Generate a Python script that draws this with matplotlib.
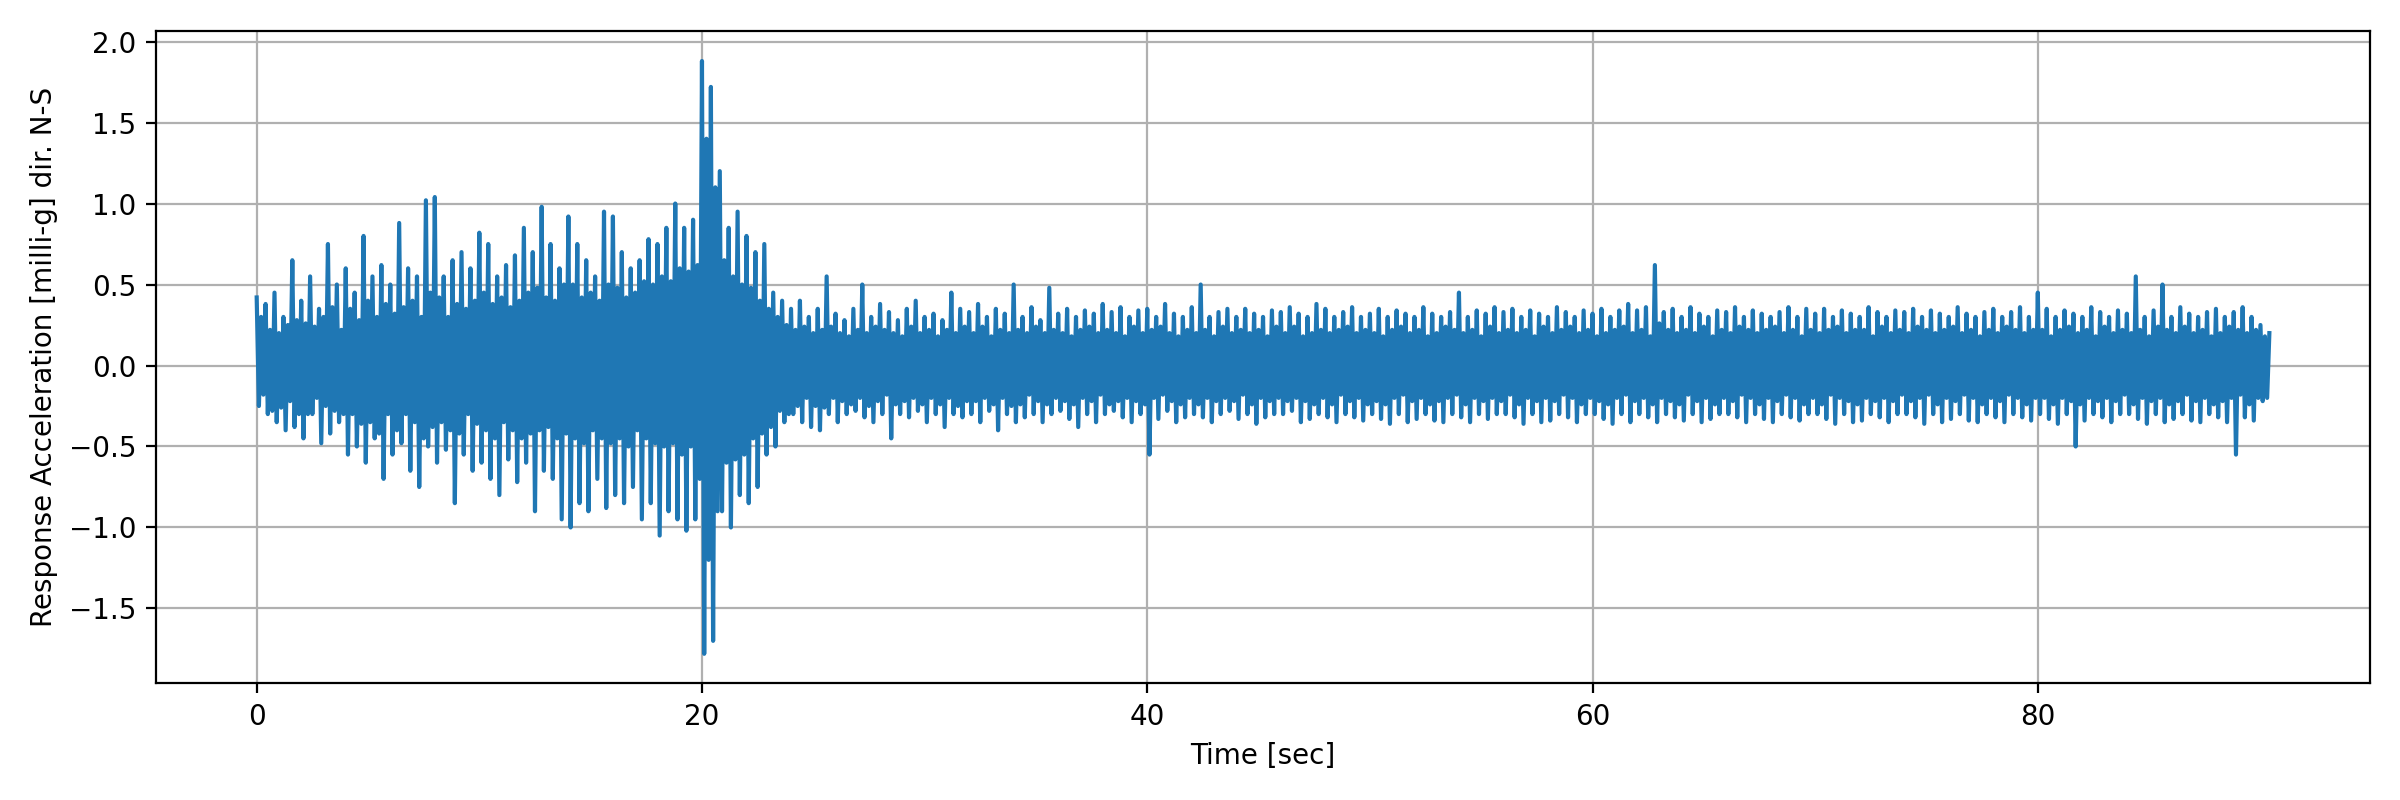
import matplotlib
matplotlib.use("Agg")
import matplotlib.pyplot as plt
import numpy as np

# acceleration samples, one row = 2 s at 0.1 s spacing
accel = [
    0.42, -0.25, 0.30, -0.18, 0.38, -0.30, 0.22, -0.28, 0.45, -0.35, 0.20, -0.26, 0.30, -0.40, 0.25, -0.22, 0.65, -0.38, 0.28, -0.30,
    0.40, -0.45, 0.26, -0.30, 0.55, -0.30, 0.24, -0.20, 0.35, -0.48, 0.30, -0.25, 0.75, -0.42, 0.36, -0.28, 0.50, -0.35, 0.22, -0.30,
    0.60, -0.55, 0.35, -0.30, 0.45, -0.50, 0.28, -0.36, 0.80, -0.60, 0.40, -0.35, 0.55, -0.45, 0.30, -0.42, 0.62, -0.70, 0.38, -0.30,
    0.50, -0.55, 0.32, -0.40, 0.88, -0.48, 0.36, -0.30, 0.60, -0.65, 0.40, -0.35, 0.55, -0.75, 0.30, -0.45, 1.02, -0.50, 0.45, -0.38,
    1.04, -0.60, 0.42, -0.35, 0.55, -0.52, 0.30, -0.40, 0.65, -0.85, 0.38, -0.42, 0.70, -0.55, 0.35, -0.30, 0.60, -0.65, 0.40, -0.36,
    0.82, -0.60, 0.45, -0.40, 0.75, -0.70, 0.38, -0.45, 0.55, -0.80, 0.42, -0.35, 0.62, -0.58, 0.36, -0.40, 0.68, -0.72, 0.40, -0.45,
    0.85, -0.60, 0.45, -0.42, 0.70, -0.90, 0.48, -0.40, 0.98, -0.65, 0.42, -0.38, 0.75, -0.70, 0.40, -0.45, 0.60, -0.95, 0.50, -0.42,
    0.92, -1.00, 0.50, -0.45, 0.75, -0.85, 0.42, -0.48, 0.65, -0.90, 0.45, -0.40, 0.55, -0.70, 0.40, -0.45, 0.95, -0.88, 0.50, -0.48,
    0.92, -0.80, 0.48, -0.45, 0.70, -0.85, 0.42, -0.50, 0.60, -0.75, 0.45, -0.40, 0.65, -0.95, 0.52, -0.45, 0.78, -0.85, 0.50, -0.48,
    0.75, -1.05, 0.55, -0.50, 0.85, -0.90, 0.52, -0.48, 1.00, -0.95, 0.60, -0.55, 0.85, -1.02, 0.58, -0.50, 0.90, -0.95, 0.62, -0.70,
    1.88, -1.78, 1.40, -1.20, 1.72, -1.70, 1.10, -0.90, 1.20, -0.90, 0.65, -0.60, 0.85, -1.00, 0.55, -0.58, 0.95, -0.80, 0.50, -0.55,
    0.80, -0.85, 0.48, -0.45, 0.70, -0.75, 0.40, -0.42, 0.75, -0.55, 0.35, -0.38, 0.45, -0.50, 0.30, -0.28, 0.40, -0.35, 0.25, -0.30,
    0.35, -0.30, 0.22, -0.25, 0.40, -0.35, 0.24, -0.20, 0.30, -0.38, 0.20, -0.25, 0.35, -0.40, 0.22, -0.26, 0.55, -0.30, 0.24, -0.20,
    0.32, -0.35, 0.20, -0.22, 0.28, -0.30, 0.18, -0.24, 0.35, -0.28, 0.22, -0.20, 0.50, -0.32, 0.20, -0.25, 0.30, -0.35, 0.24, -0.22,
    0.38, -0.30, 0.22, -0.18, 0.33, -0.45, 0.20, -0.24, 0.28, -0.30, 0.18, -0.22, 0.35, -0.32, 0.24, -0.20, 0.40, -0.28, 0.20, -0.24,
    0.30, -0.35, 0.22, -0.20, 0.32, -0.30, 0.18, -0.24, 0.28, -0.38, 0.22, -0.20, 0.45, -0.30, 0.20, -0.25, 0.35, -0.32, 0.24, -0.22,
    0.33, -0.30, 0.20, -0.22, 0.38, -0.35, 0.24, -0.20, 0.30, -0.28, 0.18, -0.24, 0.35, -0.40, 0.22, -0.20, 0.32, -0.30, 0.20, -0.25,
    0.50, -0.35, 0.22, -0.24, 0.30, -0.32, 0.20, -0.18, 0.36, -0.30, 0.24, -0.22, 0.28, -0.35, 0.20, -0.24, 0.48, -0.30, 0.22, -0.20,
    0.32, -0.28, 0.20, -0.22, 0.35, -0.33, 0.18, -0.24, 0.30, -0.38, 0.22, -0.20, 0.34, -0.30, 0.24, -0.22, 0.32, -0.35, 0.20, -0.18,
    0.38, -0.30, 0.22, -0.24, 0.33, -0.28, 0.20, -0.22, 0.36, -0.32, 0.18, -0.20, 0.30, -0.35, 0.24, -0.22, 0.34, -0.30, 0.20, -0.24,
    0.35, -0.55, 0.22, -0.20, 0.30, -0.33, 0.24, -0.18, 0.38, -0.28, 0.20, -0.22, 0.32, -0.35, 0.18, -0.24, 0.30, -0.32, 0.22, -0.20,
    0.36, -0.30, 0.20, -0.24, 0.50, -0.32, 0.22, -0.20, 0.30, -0.35, 0.18, -0.22, 0.33, -0.30, 0.24, -0.20, 0.35, -0.28, 0.20, -0.22,
    0.30, -0.33, 0.22, -0.18, 0.35, -0.30, 0.20, -0.24, 0.32, -0.36, 0.22, -0.20, 0.30, -0.32, 0.18, -0.22, 0.34, -0.30, 0.24, -0.20,
    0.33, -0.30, 0.20, -0.22, 0.36, -0.28, 0.24, -0.20, 0.32, -0.35, 0.18, -0.22, 0.30, -0.33, 0.20, -0.24, 0.38, -0.30, 0.22, -0.20,
    0.35, -0.32, 0.20, -0.24, 0.30, -0.35, 0.22, -0.18, 0.33, -0.30, 0.24, -0.22, 0.36, -0.32, 0.20, -0.20, 0.30, -0.34, 0.22, -0.24,
    0.32, -0.30, 0.20, -0.22, 0.35, -0.33, 0.18, -0.24, 0.30, -0.36, 0.22, -0.20, 0.34, -0.30, 0.24, -0.18, 0.32, -0.35, 0.20, -0.22,
    0.30, -0.33, 0.22, -0.20, 0.36, -0.30, 0.18, -0.24, 0.32, -0.34, 0.20, -0.22, 0.30, -0.35, 0.24, -0.20, 0.33, -0.30, 0.22, -0.18,
    0.45, -0.32, 0.20, -0.24, 0.30, -0.35, 0.22, -0.20, 0.34, -0.30, 0.18, -0.22, 0.32, -0.33, 0.24, -0.20, 0.36, -0.30, 0.20, -0.22,
    0.33, -0.30, 0.22, -0.18, 0.35, -0.32, 0.20, -0.24, 0.30, -0.36, 0.22, -0.20, 0.34, -0.30, 0.18, -0.22, 0.32, -0.35, 0.24, -0.20,
    0.30, -0.34, 0.20, -0.22, 0.36, -0.30, 0.22, -0.18, 0.33, -0.32, 0.24, -0.20, 0.30, -0.35, 0.20, -0.24, 0.34, -0.30, 0.22, -0.20,
    0.32, -0.30, 0.18, -0.22, 0.35, -0.33, 0.20, -0.24, 0.30, -0.36, 0.22, -0.20, 0.34, -0.30, 0.24, -0.18, 0.38, -0.35, 0.20, -0.22,
    0.34, -0.30, 0.22, -0.20, 0.36, -0.32, 0.18, -0.24, 0.62, -0.35, 0.26, -0.20, 0.33, -0.30, 0.22, -0.22, 0.35, -0.32, 0.20, -0.24,
    0.30, -0.34, 0.22, -0.18, 0.36, -0.30, 0.20, -0.22, 0.32, -0.35, 0.24, -0.20, 0.30, -0.33, 0.18, -0.24, 0.34, -0.30, 0.22, -0.20,
    0.33, -0.30, 0.20, -0.22, 0.36, -0.32, 0.24, -0.18, 0.30, -0.35, 0.22, -0.20, 0.34, -0.30, 0.20, -0.24, 0.32, -0.33, 0.22, -0.20,
    0.30, -0.35, 0.24, -0.22, 0.33, -0.30, 0.20, -0.18, 0.36, -0.32, 0.22, -0.20, 0.30, -0.34, 0.18, -0.24, 0.35, -0.30, 0.22, -0.20,
    0.32, -0.30, 0.20, -0.24, 0.35, -0.33, 0.22, -0.18, 0.30, -0.36, 0.24, -0.20, 0.34, -0.30, 0.20, -0.22, 0.32, -0.35, 0.22, -0.24,
    0.30, -0.34, 0.22, -0.20, 0.36, -0.30, 0.18, -0.22, 0.33, -0.32, 0.24, -0.20, 0.30, -0.35, 0.20, -0.22, 0.34, -0.30, 0.22, -0.18,
    0.33, -0.30, 0.20, -0.22, 0.35, -0.32, 0.24, -0.20, 0.30, -0.36, 0.22, -0.18, 0.34, -0.30, 0.20, -0.24, 0.32, -0.35, 0.22, -0.20,
    0.30, -0.33, 0.24, -0.22, 0.36, -0.30, 0.20, -0.18, 0.32, -0.34, 0.22, -0.20, 0.30, -0.35, 0.18, -0.24, 0.33, -0.30, 0.22, -0.20,
    0.35, -0.32, 0.20, -0.22, 0.30, -0.35, 0.24, -0.18, 0.33, -0.30, 0.22, -0.20, 0.36, -0.32, 0.20, -0.24, 0.30, -0.34, 0.22, -0.20,
    0.45, -0.30, 0.22, -0.20, 0.35, -0.33, 0.18, -0.24, 0.30, -0.36, 0.22, -0.20, 0.34, -0.30, 0.24, -0.22, 0.32, -0.50, 0.20, -0.24,
    0.30, -0.34, 0.22, -0.20, 0.36, -0.30, 0.18, -0.22, 0.33, -0.32, 0.24, -0.20, 0.30, -0.35, 0.20, -0.22, 0.34, -0.30, 0.22, -0.18,
    0.32, -0.30, 0.20, -0.24, 0.55, -0.33, 0.22, -0.20, 0.30, -0.36, 0.18, -0.22, 0.34, -0.30, 0.24, -0.20, 0.50, -0.35, 0.22, -0.24,
    0.30, -0.33, 0.20, -0.22, 0.36, -0.30, 0.24, -0.18, 0.32, -0.34, 0.20, -0.22, 0.30, -0.35, 0.22, -0.20, 0.33, -0.30, 0.18, -0.24,
    0.35, -0.32, 0.20, -0.22, 0.30, -0.35, 0.24, -0.20, 0.33, -0.55, 0.22, -0.18, 0.36, -0.32, 0.20, -0.24, 0.30, -0.34, 0.22, -0.20,
    0.25, -0.22, 0.18, -0.20, 0.20,
]
time = np.arange(len(accel)) * 0.1

fig, ax = plt.subplots(figsize=(12, 4), dpi=200)
ax.plot(time, accel, color="#1f77b4", lw=1.5)
ax.set_xlabel("Time [sec]")
ax.set_ylabel("Response Acceleration [milli-g] dir. N-S")
ax.set_yticks(np.arange(-1.5, 2.01, 0.5))
ax.grid(True)
plt.tight_layout()
plt.savefig("out.png", dpi=200)
